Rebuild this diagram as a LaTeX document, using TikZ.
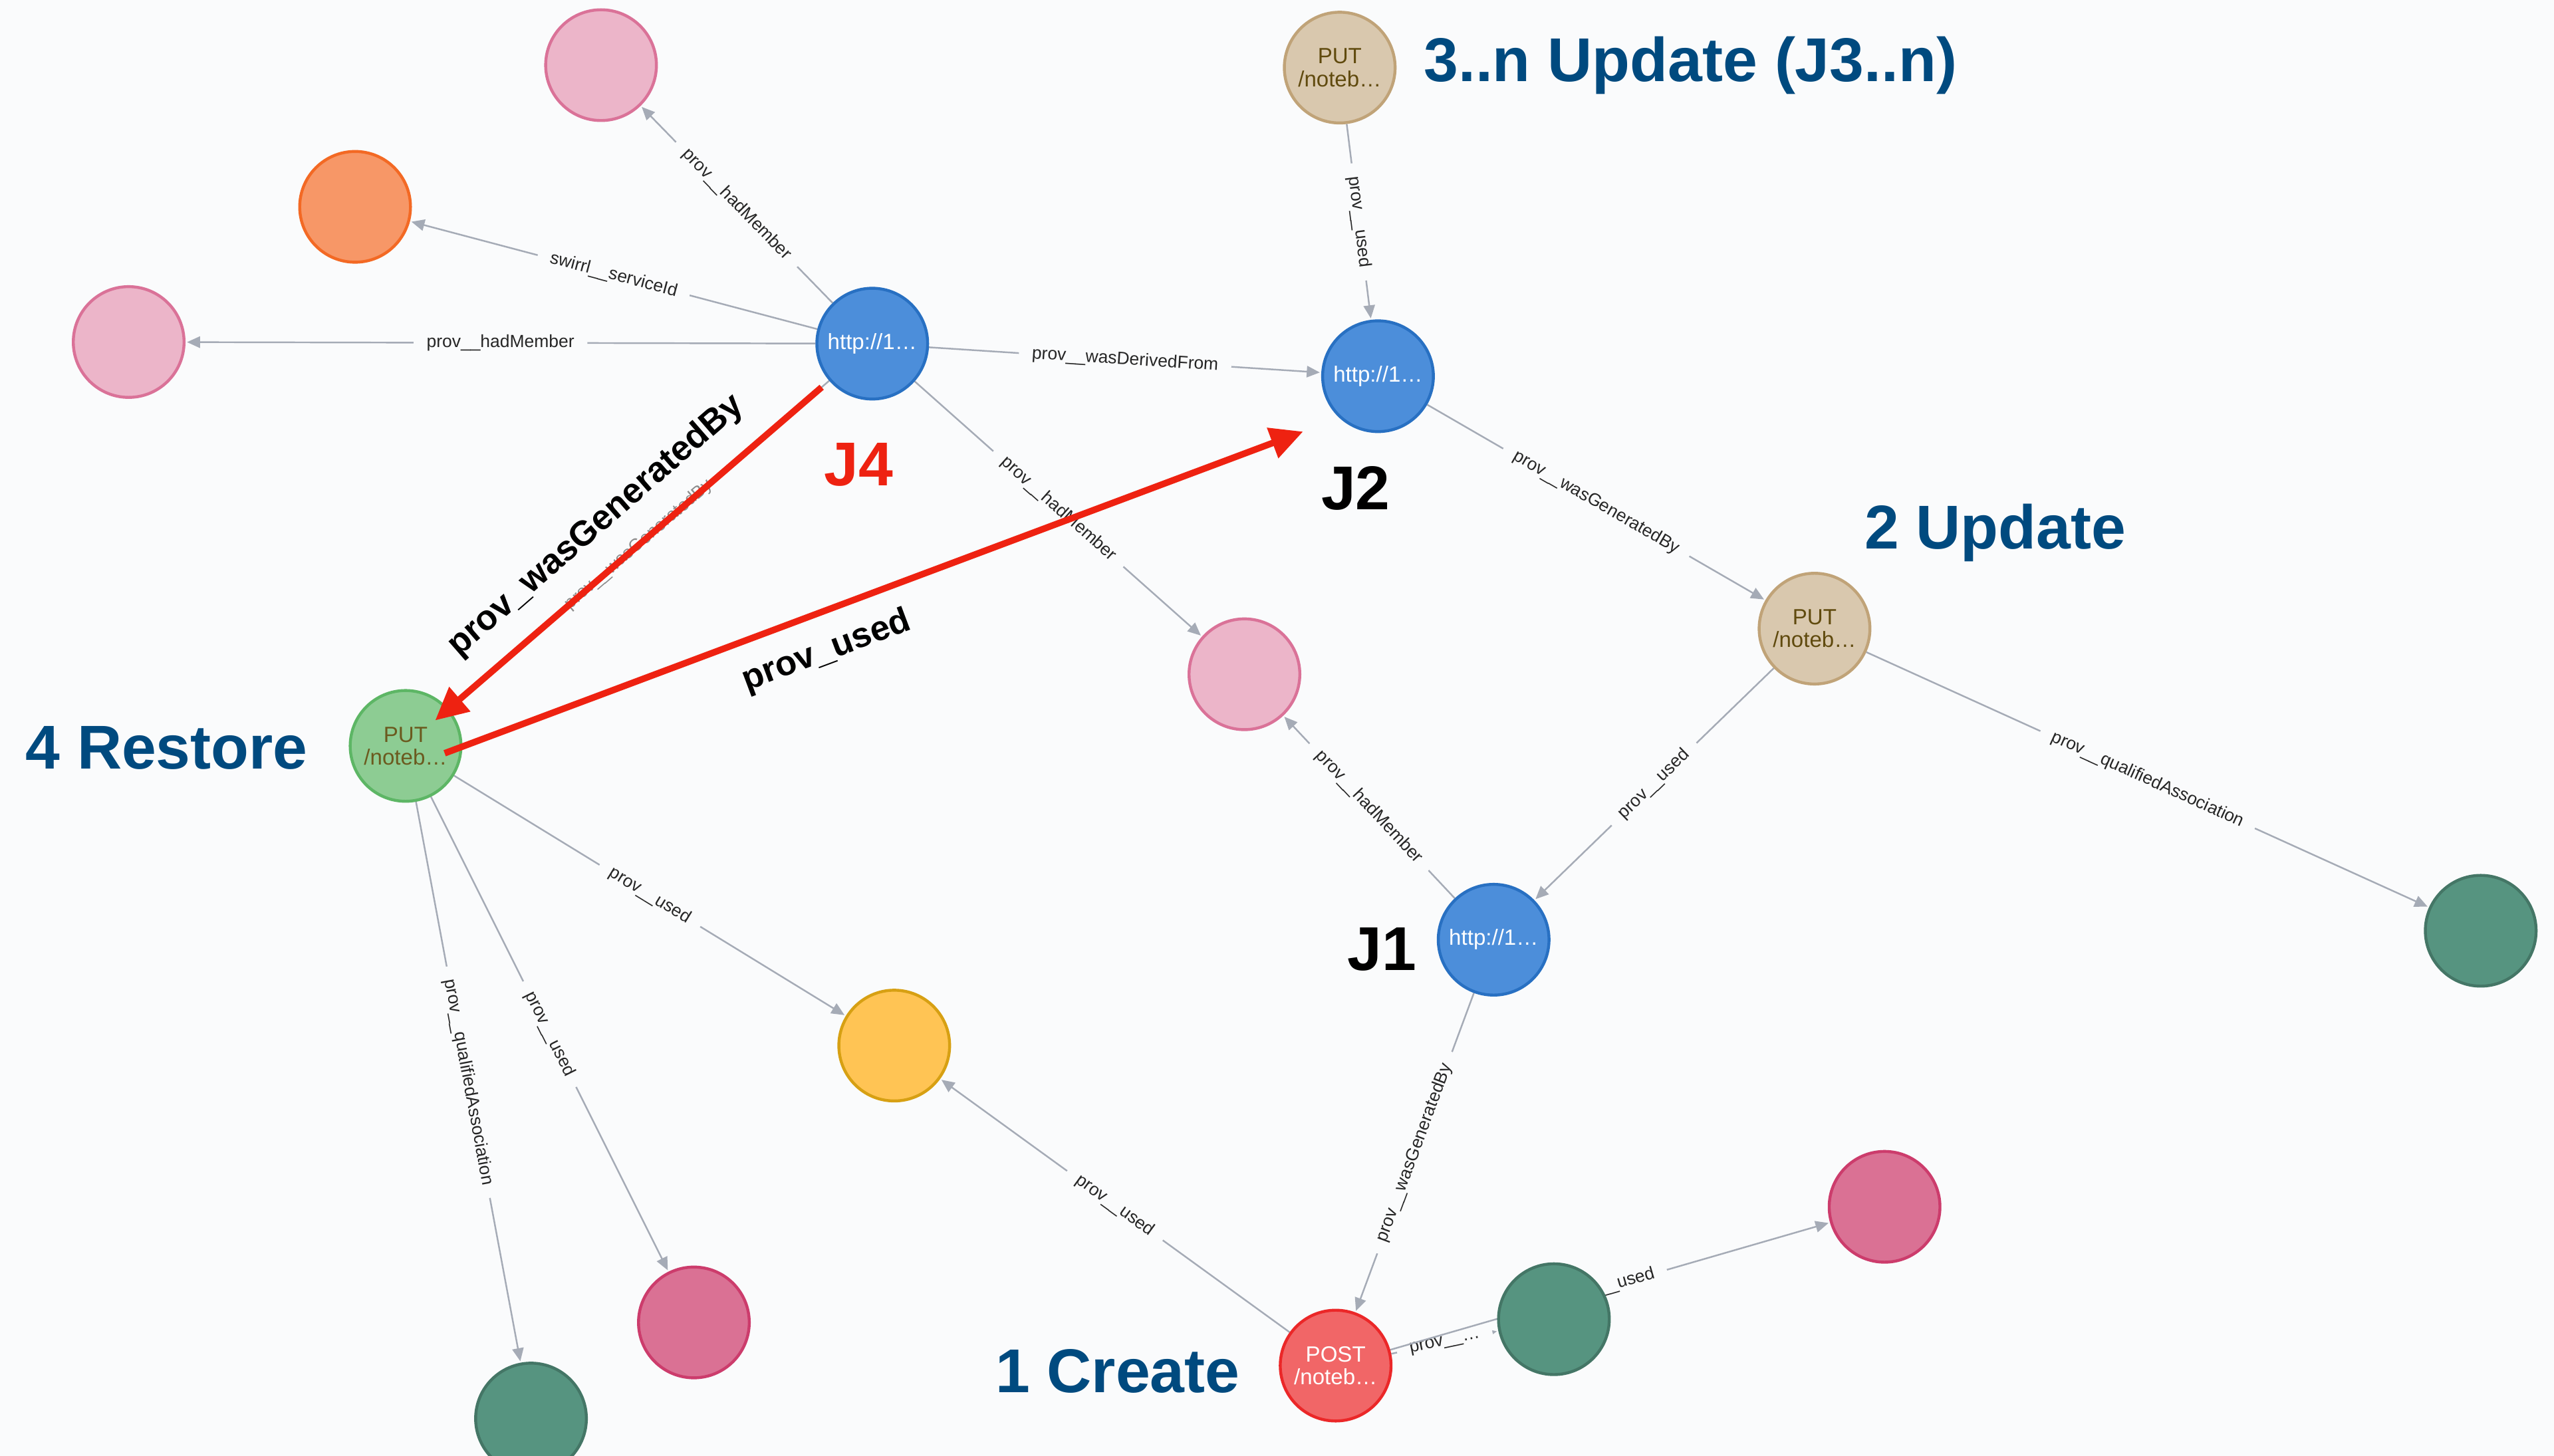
\documentclass[tikz,border=0pt]{standalone}
\usepackage{fontspec}
\setmainfont{Liberation Sans}
\usetikzlibrary{arrows.meta,backgrounds,calc}
\definecolor{bgc}{HTML}{FAFBFC}
\definecolor{edgegray}{HTML}{A5ABB6}
\definecolor{pinkF}{HTML}{ECB5C9}\definecolor{pinkD}{HTML}{DA7298}
\definecolor{orgF}{HTML}{F79767}\definecolor{orgD}{HTML}{F36924}
\definecolor{bluF}{HTML}{4C8EDA}\definecolor{bluD}{HTML}{2870C2}
\definecolor{tanF}{HTML}{D9C8AE}\definecolor{tanD}{HTML}{C0A378}
\definecolor{lgrF}{HTML}{8DCC93}\definecolor{lgrD}{HTML}{5DB665}
\definecolor{yelF}{HTML}{FFC454}\definecolor{yelD}{HTML}{D7A013}
\definecolor{dpkF}{HTML}{DA7194}\definecolor{dpkD}{HTML}{CC3C6C}
\definecolor{dgrF}{HTML}{569480}\definecolor{dgrD}{HTML}{447666}
\definecolor{redF}{HTML}{F16667}\definecolor{redD}{HTML}{EB2728}
\definecolor{captxt}{HTML}{604A0E}
\definecolor{captxtg}{HTML}{6B5A1F}
\definecolor{annblue}{HTML}{004A7F}
\definecolor{hlred}{HTML}{EE2211}
\begin{document}
\begin{tikzpicture}[x=1pt,y=-1pt,
  nd/.style={circle, minimum size=68pt, inner sep=0pt, line width=1.8pt, align=center,
             font=\fontsize{13.5}{14}\selectfont},
  pinkn/.style={nd, fill=pinkF, draw=pinkD},
  orgn/.style={nd, fill=orgF, draw=orgD},
  blun/.style={nd, fill=bluF, draw=bluD, text=white},
  tann/.style={nd, fill=tanF, draw=tanD, text=captxt},
  lgrn/.style={nd, fill=lgrF, draw=lgrD, text=captxtg},
  yeln/.style={nd, fill=yelF, draw=yelD},
  dpkn/.style={nd, fill=dpkF, draw=dpkD},
  dgrn/.style={nd, fill=dgrF, draw=dgrD},
  redn/.style={nd, fill=redF, draw=redD, text=white},
  lnk/.style={draw=edgegray, line width=1pt, -{Triangle[length=8pt,width=7pt]}, shorten >=0.9pt},
  elab/.style={sloped, midway, fill=bgc, inner xsep=8pt, inner ysep=1pt,
               font=\fontsize{10.8}{12}\selectfont, text=black!85},
  redarr/.style={draw=hlred, line width=4pt, -{Triangle[length=20pt,width=19pt]}},
  rlab/.style={font=\bfseries\fontsize{21.5}{24}\selectfont, inner sep=0pt},
  ann/.style={font=\bfseries\fontsize{38}{40}\selectfont, text=annblue, anchor=base west, inner sep=0pt},
  jlab/.style={font=\bfseries\fontsize{38}{40}\selectfont, anchor=base west, inner sep=0pt}
]
\useasboundingbox (0,0) rectangle (1568,894);

% nodes
\node[pinkn] (pTop)  at (369,40)  {};
\node[orgn]  (orng)  at (218,127) {};
\node[pinkn] (pLeft) at (79,210)  {};
\node[blun]  (J4)    at (535.5,211) {http://1…};
\node[blun]  (J2)    at (846,231) {http://1…};
\node[tann]  (put3)  at (822.5,41.5) {PUT\\/noteb…};
\node[pinkn] (pMid)  at (764,414) {};
\node[tann]  (put2)  at (1114,386) {PUT\\/noteb…};
\node[dgrn]  (gR)    at (1523,571.5) {};
\node[blun]  (J1)    at (917,577) {http://1…};
\node[lgrn]  (put4)  at (249,458) {PUT\\/noteb…};
\node[yeln]  (yel)   at (549,642) {};
\node[dpkn]  (dpB)   at (426,812) {};
\node[dgrn]  (gB)    at (326,871) {};
\node[redn]  (post)  at (820,838.5) {POST\\/noteb…};
\node[dgrn]  (gBR)   at (954,810) {};
\node[dpkn]  (dpR)   at (1157,741) {};

% gray edges under the nodes
\begin{pgfonlayer}{background}
\fill[bgc] (0,0) rectangle (1568,894);
\draw[lnk] (J4) -- node[elab]{prov\_\_hadMember} (pTop);
\draw[lnk] (J4) -- node[elab]{swirrl\_\_serviceId} (orng);
\draw[lnk] (J4) -- node[elab]{prov\_\_hadMember} (pLeft);
\draw[lnk] (J4) -- node[elab]{prov\_\_wasDerivedFrom} (J2);
\draw[lnk] (J4) -- node[elab]{prov\_\_hadMember} (pMid);
\draw[lnk] (J4) -- node[elab, text=black!45]{prov\_\_wasGeneratedBy} (put4);
\draw[lnk] (put3) -- node[elab]{prov\_\_used} (J2);
\draw[lnk] (J2) -- node[elab]{prov\_\_wasGeneratedBy} (put2);
\draw[lnk] (put2) -- node[elab]{prov\_\_used} (J1);
\draw[lnk] (put2) -- node[elab]{prov\_\_qualifiedAssociation} (gR);
\draw[lnk] (J1) -- node[elab]{prov\_\_hadMember} (pMid);
\draw[lnk] (J1) -- node[elab]{prov\_\_wasGeneratedBy} (post);
\draw[lnk] (post) -- node[elab]{prov\_\_used} (yel);
\draw[lnk] (post) -- node[elab]{prov\_\_…} (gBR);
\draw[lnk] (post) -- node[elab]{prov\_\_used} (dpR);
\draw[lnk] (put4) -- node[elab]{prov\_\_used} (yel);
\draw[lnk] (put4) -- node[elab]{prov\_\_used} (dpB);
\draw[lnk] (put4) -- node[elab]{prov\_\_qualifiedAssociation} (gB);
\end{pgfonlayer}

% highlighted red arrows
\draw[redarr] ($(J4)!41pt!(put4)$) -- ($(put4)!24pt!(J4)$);
\draw[redarr] ($(put4)+(24,4.5)$) -- ($(J2)+(-46,34)$);
\node[rlab, rotate=41]   (wgbLab)  at (366,323) {prov\_wasGeneratedBy};
\node[rlab, rotate=20.5] (usedLab) at (507.5,400) {prov\_used};

% annotations
\node[ann] (a3) at (874,50)   {3..n Update (J3..n)};
\node[ann] (a2) at (1144.5,337) {2 Update};
\node[ann] (a4) at (15.5,472)  {4 Restore};
\node[ann] (a1) at (611,855)  {1 Create};
\node[jlab, text=hlred] (lJ4) at (505.8,298.4) {J4};
\node[jlab] (lJ2) at (811,312.8) {J2};
\node[jlab] (lJ1) at (827,596)   {J1};
\end{tikzpicture}
\end{document}
